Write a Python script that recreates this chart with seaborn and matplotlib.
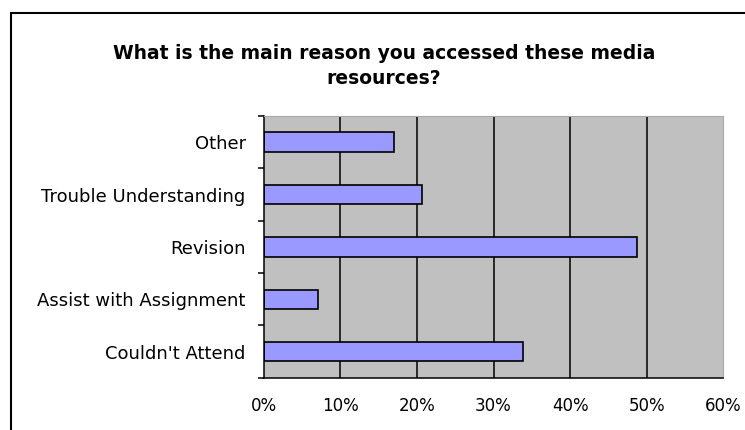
import matplotlib
matplotlib.use("Agg")
import matplotlib.pyplot as plt
import seaborn as sns
import pandas as pd
from matplotlib.patches import Rectangle

# Survey responses: main reason for accessing the media resources
reasons = ["Other", "Trouble Understanding", "Revision",
           "Assist with Assignment", "Couldn't Attend"]
shares = [0.170, 0.207, 0.487, 0.071, 0.339]
x_ticks = [0.0, 0.1, 0.2, 0.3, 0.4, 0.5, 0.6]
x_tick_labels = ["0%", "10%", "20%", "30%", "40%", "50%", "60%"]
title = "What is the main reason you accessed these media\nresources?"

sns.set_theme(style="white")
plt.rcParams["font.family"] = ["DejaVu Sans"]

W, H = 745, 430
fig = plt.figure(figsize=(W / 100, H / 100), dpi=100)
fig.patch.set_facecolor("white")

# plot area in pixel units of the canvas
left, right, top, bottom = 263.7, 723.3, 116.0, 377.7
ax = fig.add_axes([left / W, 1 - bottom / H, (right - left) / W, (bottom - top) / H])

df = pd.DataFrame({"reason": reasons, "share": shares})
sns.barplot(data=df, x="share", y="reason", order=reasons, orient="h",
            color="#9999FF", saturation=1, width=0.37,
            edgecolor="black", linewidth=1.2, ax=ax, zorder=2)

ax.set_facecolor("#C0C0C0")
ax.set_xlim(x_ticks[0], x_ticks[-1])
ax.set_ylim(len(reasons) - 0.5, -0.5)
ax.set_xlabel("")
ax.set_ylabel("")

# vertical gridlines at the interior major ticks
ax.vlines(x_ticks[1:-1], -0.5, len(reasons) - 0.5, colors="black",
          linewidth=1.1, zorder=1)

# x axis
ax.set_xticks(x_ticks)
ax.set_xticklabels(x_tick_labels, fontsize=12)
ax.tick_params(axis="x", which="major", direction="out", length=4,
               width=1.1, color="black", pad=10, labelcolor="black")

# y axis: labels at category centres, tick marks at category boundaries
ax.set_yticks(range(len(reasons)))
ax.set_yticklabels(reasons, fontsize=13)
ax.set_yticks([i - 0.5 for i in range(len(reasons) + 1)], minor=True)
ax.tick_params(axis="y", which="major", length=0, pad=13, labelcolor="black")
ax.tick_params(axis="y", which="minor", direction="out", length=4,
               width=1.1, color="black", left=True)

for side in ("left", "bottom"):
    ax.spines[side].set_color("black")
    ax.spines[side].set_linewidth(1.1)
for side in ("top", "right"):
    ax.spines[side].set_color("#A8A8A8")
    ax.spines[side].set_linewidth(0.8)

# chart title
fig.text(384 / W, 1 - 66 / H, title, ha="center", va="center",
         fontsize=13.5, fontweight="bold", linespacing=1.35, color="black")

# outer chart frame (runs off the right and bottom edges)
fig.patches.append(Rectangle((11 / W, -0.2), 1.2, 1 - 13.5 / H + 0.2,
                             transform=fig.transFigure, fill=False,
                             edgecolor="black", linewidth=1.5))

fig.savefig("out.png", dpi=100)
